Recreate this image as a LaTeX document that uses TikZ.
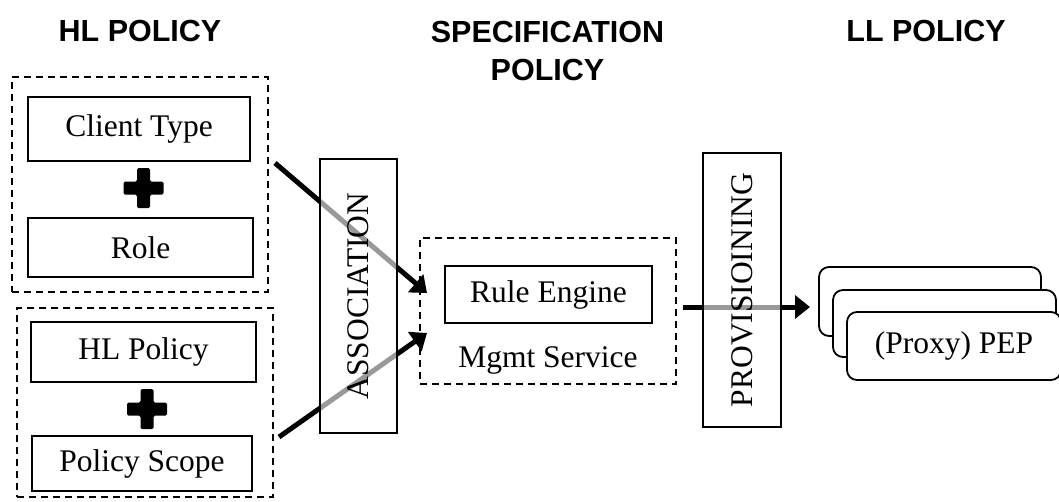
\documentclass[tikz,border=0pt]{standalone}
\usepackage{fontspec}
\setmainfont{Liberation Serif}
\newfontfamily\headfont{Liberation Sans}
\usetikzlibrary{arrows.meta}

\tikzset{
  box/.style={draw=black, line width=1.8pt, fill=white, inner sep=0pt,
    font=\fontsize{31.5}{38}\selectfont},
  groupbox/.style={draw=black, line width=1.7pt, dash pattern=on 7pt off 5pt, inner sep=0pt},
  stagebox/.style={draw=black, line width=1.8pt, fill=white, fill opacity=0.6,
    text opacity=1, inner sep=0pt, rotate=90, font=\fontsize{31.5}{38}\selectfont},
  pepbox/.style={draw=black, line width=1.8pt, fill=white, rounded corners=10pt,
    inner sep=0pt, font=\fontsize{31.5}{38}\selectfont},
  heading/.style={font=\headfont\bfseries\fontsize{30.5}{37}\selectfont, inner sep=0pt, align=center},
  flow/.style={line width=5pt, -{Triangle[length=15pt,width=23pt]}},
  plus/.pic={
    \fill[rounded corners=1.5pt]
      (-6.5,-20) -- (6.5,-20) -- (6.5,-6.5) -- (20,-6.5) -- (20,6.5) -- (6.5,6.5)
      -- (6.5,20) -- (-6.5,20) -- (-6.5,6.5) -- (-20,6.5) -- (-20,-6.5) -- (-6.5,-6.5) -- cycle;
  }
}

\begin{document}
\begin{tikzpicture}[x=1pt, y=-1pt]
  \fill[white] (0,0) rectangle (1059,501);
  \useasboundingbox (0,0) rectangle (1059,501);

  % column headings
  \node[heading, anchor=base] (hhl) at (140,41) {HL POLICY};
  \node[heading, anchor=north] (hspec) at (547.5,21.5) {SPECIFICATION\\POLICY};
  \node[heading, anchor=base] (hll) at (926,41) {LL POLICY};

  % high-level policy inputs
  \node[groupbox, minimum width=256pt, minimum height=215pt] (g1) at (140,184.5) {};
  \node[box, minimum width=222pt, minimum height=64pt] (ct) at (139,129) {Client Type};
  \pic at (143.5,188) {plus};
  \node[box, minimum width=225pt, minimum height=59pt] (role) at (140.5,247.5) {Role};

  \node[groupbox, minimum width=256pt, minimum height=189pt] (g2) at (145,402.5) {};
  \node[box, minimum width=225pt, minimum height=60pt] (hlp) at (143.5,352) {HL Policy};
  \pic at (147,409) {plus};
  \node[box, minimum width=220pt, minimum height=55pt] (ps) at (142,463.5) {Policy Scope};

  % management service
  \node[groupbox, minimum width=256pt, minimum height=146pt] (mgmt) at (548,311) {};
  \node[box, minimum width=207pt, minimum height=57pt] (re) at (548.5,294.5) {Rule Engine};
  \node[anchor=base, inner sep=0pt, font=\fontsize{31.5}{38}\selectfont] (ms) at (548,367) {Mgmt Service};

  % connector end points
  \coordinate (a1s) at (275,163);
  \coordinate (a1e) at (427,293);
  \coordinate (a2s) at (279,437);
  \coordinate (a2e) at (427,333);
  \coordinate (a3s) at (683,307);
  \coordinate (a3e) at (810,307);

  \draw[flow] (a1s) -- (a1e);
  \draw[flow] (a2s) -- (a2e);
  \draw[flow] (a3s) -- (a3e);

  % stage labels laid over the connectors
  \node[stagebox, minimum width=274pt, minimum height=77pt] (assoc) at (358.5,296) {ASSOCIATION};
  \node[stagebox, minimum width=274pt, minimum height=78pt] (prov) at (742,290) {PROVISIOINING};

  % stacked enforcement points
  \node[pepbox, minimum width=222pt, minimum height=69pt] (pep3) at (930,301.5) {};
  \node[pepbox, minimum width=223pt, minimum height=67pt] (pep2) at (944.5,323.5) {};
  \node[pepbox, minimum width=214pt, minimum height=68pt] (pep1) at (954,346) {(Proxy) PEP};
\end{tikzpicture}
\end{document}
